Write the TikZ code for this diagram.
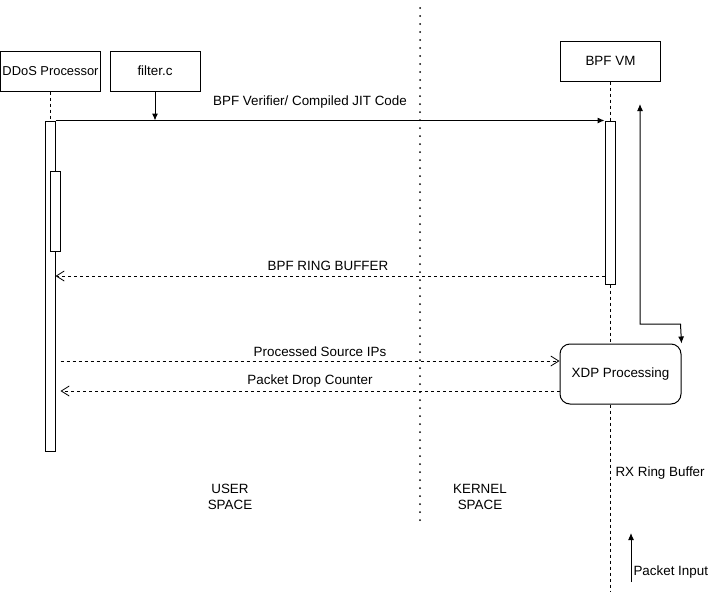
\documentclass[tikz,border=0pt]{standalone}
\usepackage{fontspec}
\setmainfont{Liberation Sans}
\usetikzlibrary{arrows.meta}

\begin{document}
\begin{tikzpicture}
    [
    x=1pt, y=-1pt,
    every node/.style={font=\fontsize{13.4}{16}\selectfont},
    box/.style={rectangle,draw,line width=1pt,minimum width=100pt,minimum height=40pt,inner sep=0pt},
    bar/.style={rectangle,draw,fill=white,line width=1pt,minimum width=10pt,inner sep=0pt},
    life/.style={line width=0.8pt,dash pattern=on 3pt off 3pt},
    edge/.style={->,> = {Latex[length=7pt,width=6pt]},line width=1pt},
    reply/.style={->,> = {Straight Barb[length=8pt,width=10pt]},line width=0.8pt,dash pattern=on 3pt off 3pt}
    ]
\useasboundingbox (0,0) rectangle (716,592);
% participants
\node[box,font=\fontsize{12.9}{16}\selectfont] (ddos) at (50.5,71) {DDoS Processor};
\node[box,minimum width=90pt] (filter) at (155,71) {filter.c};
\node[box] (vm) at (610.5,61) {BPF VM};
\node[box,rounded corners=10pt,minimum width=121pt,minimum height=60pt] (xdp) at (620.5,374) {XDP Processing};
% activations
\node[bar,minimum height=330pt] (b1) at (50,286) {};
\node[bar,minimum height=80pt] (b2) at (55,211) {};
\node[bar,minimum height=163pt] (b3) at (610,202.5) {};
% lifelines
\draw[life] (ddos.south -| b1) -- (b1.north);
\draw[life] (vm.south -| b3) -- (b3.north);
\draw[life] (b3.south) -- (b3.south |- xdp.north);
\draw[life] (b3.south |- xdp.south) -- (b3.south |- 0,592);
% user / kernel split
\draw[line width=2pt,line cap=round,dash pattern=on 0pt off 8pt] (420,8) -- (420,520);
\node[align=center] (user) at (230,497) {USER\\SPACE};
\node[align=center] (kernel) at (480,497) {KERNEL\\SPACE};
% messages
\coordinate (c1) at (filter.south |- b1.north);
\draw[edge] (filter.south) -- (c1);
\draw[edge] (b1.north east) -- (b3.north west);
\node (m1) at (310,102) {BPF Verifier/ Compiled JIT Code};
\draw[reply] (b3.west |- 0,276) -- (b1.east |- 0,276);
\node (m2) at (328,266) {BPF RING BUFFER};
\draw[reply] (b2.east |- 0,361) -- (xdp.west |- 0,361);
\node (m3) at (320,352) {Processed Source IPs};
\draw[reply] (xdp.west |- 0,391) -- (b2.east |- 0,391);
\node (m4) at (310,381) {Packet Drop Counter};
% xdp loop
\coordinate (top) at (640,104);
\coordinate (bend) at (680.5,324);
\draw[edge,<->] (top) |- (bend) -- (xdp.north east);
% packet input
\node[anchor=west] (rx) at (612,473) {RX Ring Buffer};
\coordinate (pin) at (631,582);
\coordinate (pout) at (631,533);
\draw[edge] (pin) -- (pout);
\node[anchor=west] (pkt) at (630,572) {Packet Input};
\end{tikzpicture}
\end{document}
